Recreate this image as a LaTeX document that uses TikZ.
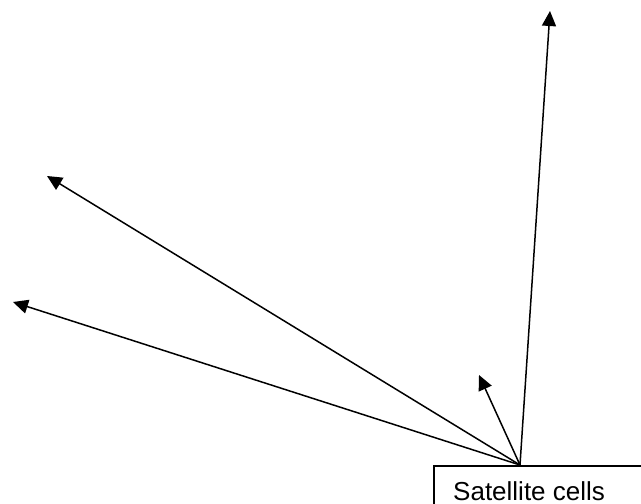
\documentclass[tikz,border=0pt]{standalone}
\usepackage{fontspec}
\setmainfont{Liberation Sans}
\usetikzlibrary{arrows.meta}
\begin{document}
\begin{tikzpicture}[x=1pt,y=1pt,
  conn/.style={line width=1.5pt,-{Triangle[length=15pt,width=14pt]}},
  cellbox/.style={draw,line width=1.5pt,minimum width=230pt,minimum height=60pt,anchor=north west,inner sep=0pt}]
\useasboundingbox (0,0) rectangle (641,-504);
\clip (0,0) rectangle (641,-504);
\node[cellbox] (box) at (433,-465) {};
\node[anchor=base west,inner sep=0pt,font=\fontsize{26}{30}\selectfont] (lbl) at (453,-500) {Satellite cells};
\coordinate (o) at (520,-465);
\coordinate (t1) at (550,-11);
\coordinate (t2) at (47,-176);
\coordinate (t3) at (13,-302);
\coordinate (t4) at (479,-375);
\draw[conn] (o) -- (t1);
\draw[conn] (o) -- (t2);
\draw[conn] (o) -- (t3);
\draw[conn] (o) -- (t4);
\end{tikzpicture}
\end{document}
